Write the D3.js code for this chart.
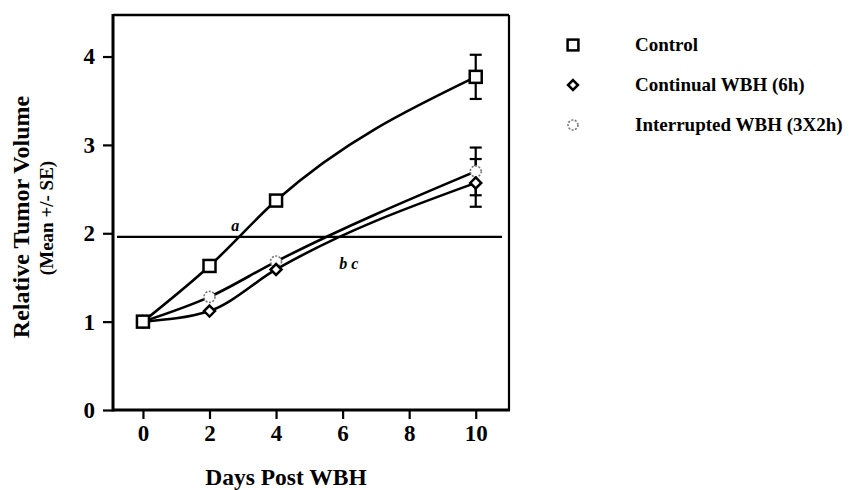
<!DOCTYPE html>
<html>
<head>
<meta charset="utf-8">
<script src="https://cdn.jsdelivr.net/npm/d3@7"></script>
<style>
  html, body { margin: 0; padding: 0; background: #fff; }
  svg { display: block; }
  text { font-family: "Liberation Serif", "Times New Roman", serif; font-weight: bold; fill: #000; }
</style>
</head>
<body>
<svg id="chart" width="852" height="490"></svg>
<script>
// ---- data ----
const days = [0, 2, 4, 10];
const xTicks = [0, 2, 4, 6, 8, 10];
const yTicks = [0, 1, 2, 3, 4];
const seriesNames = ["Control", "Continual WBH (6h)", "Interrupted WBH (3X2h)"];
const controlValues = [1.0, 1.63, 2.37, 3.77];
const continualValues = [1.0, 1.12, 1.59, 2.57];
const interruptedValues = [1.0, 1.28, 1.68, 2.70];
const controlSE = [0, 0, 0, 0.25];
const continualSE = [0, 0, 0, 0.27];
const interruptedSE = [0, 0, 0, 0.27];
const referenceLevel = 1.96;
const annotations = [
  { text: "a", day: 2.65, value: 2.03 },
  { text: "b c", day: 5.9, value: 1.6 }
];

// ---- layout ----
const svg = d3.select("#chart");
const x = d3.scaleLinear().domain([-0.9, 11]).range([113, 509]);
const y = d3.scaleLinear().domain([0, 4.47]).range([410, 15]);

// frame
const frame = svg.append("g");
frame.append("line").attr("x1", x.range()[0]).attr("x2", x.range()[1])
  .attr("y1", y.range()[1]).attr("y2", y.range()[1]).attr("stroke", "#000").attr("stroke-width", 2.5);
frame.append("line").attr("x1", x.range()[1]).attr("x2", x.range()[1])
  .attr("y1", y.range()[1]).attr("y2", y.range()[0]).attr("stroke", "#000").attr("stroke-width", 2.2);

// axes
const yAxis = svg.append("g").attr("transform", `translate(${x.range()[0]},0)`)
  .call(d3.axisLeft(y).tickValues(yTicks).tickSize(10).tickPadding(8).tickFormat(d3.format("d")));
const xAxis = svg.append("g").attr("transform", `translate(0,${y.range()[0]})`)
  .call(d3.axisBottom(x).tickValues(xTicks).tickSize(9).tickPadding(6).tickFormat(d3.format("d")));
[yAxis, xAxis].forEach(g => {
  g.select(".domain").remove();
  g.selectAll(".tick line").attr("stroke", "#000").attr("stroke-width", 2.2);
  g.selectAll(".tick text").style("font-size", "23px").style("font-family", "'Liberation Serif', serif").style("font-weight", "bold");
});
svg.append("line").attr("x1", x.range()[0]).attr("x2", x.range()[0])
  .attr("y1", y.range()[1] - 1).attr("y2", y.range()[0] + 1.5).attr("stroke", "#000").attr("stroke-width", 3);
svg.append("line").attr("x1", x.range()[0]).attr("x2", x.range()[1] + 1)
  .attr("y1", y.range()[0]).attr("y2", y.range()[0]).attr("stroke", "#000").attr("stroke-width", 3);

// axis titles
svg.append("text").attr("x", 286).attr("y", 485).attr("text-anchor", "middle")
  .style("font-size", "23.5px").text("Days Post WBH");
svg.append("text").attr("transform", "translate(29,217) rotate(-90)").attr("text-anchor", "middle")
  .style("font-size", "24px").text("Relative Tumor Volume");
svg.append("text").attr("transform", "translate(53,218) rotate(-90)").attr("text-anchor", "middle")
  .style("font-size", "19px").text("(Mean +/- SE)");

// reference line
svg.append("line").attr("x1", x.range()[0] + 4).attr("x2", x.range()[1] - 7)
  .attr("y1", y(referenceLevel)).attr("y2", y(referenceLevel)).attr("stroke", "#000").attr("stroke-width", 2.2);

// annotations
svg.selectAll("text.ann").data(annotations).join("text").attr("class", "ann")
  .attr("x", d => x(d.day)).attr("y", d => y(d.value))
  .style("font-size", "16px").style("font-style", "italic").text(d => d.text);

// series
const series = [
  { name: seriesNames[0], values: controlValues, se: controlSE, shape: "square" },
  { name: seriesNames[1], values: continualValues, se: continualSE, shape: "diamond" },
  { name: seriesNames[2], values: interruptedValues, se: interruptedSE, shape: "circle" }
];
const line = d3.line().x(d => x(d[0])).y(d => y(d[1])).curve(d3.curveMonotoneX);

series.forEach(s => {
  const pts = days.map((d, i) => [d, s.values[i]]);
  svg.append("path").attr("d", line(pts)).attr("fill", "none").attr("stroke", "#000").attr("stroke-width", 2.6);
});

// error bars
series.forEach(s => {
  days.forEach((d, i) => {
    if (!s.se[i]) return;
    const cx = x(d), hi = y(s.values[i] + s.se[i]), lo = y(s.values[i] - s.se[i]);
    const g = svg.append("g").attr("stroke", "#000").attr("stroke-width", 2.2);
    g.append("line").attr("x1", cx).attr("x2", cx).attr("y1", hi).attr("y2", lo);
    g.append("line").attr("x1", cx - 6).attr("x2", cx + 6).attr("y1", hi).attr("y2", hi);
    g.append("line").attr("x1", cx - 6).attr("x2", cx + 6).attr("y1", lo).attr("y2", lo);
  });
});

function drawMarker(g, shape, cx, cy, scale) {
  const k = scale || 1;
  if (shape === "square") {
    const h = 6 * k;
    g.append("rect").attr("x", cx - h).attr("y", cy - h).attr("width", 2 * h).attr("height", 2 * h)
      .attr("fill", "#fff").attr("stroke", "#000").attr("stroke-width", 2.5);
  } else if (shape === "diamond") {
    const h = 5.5 * k;
    g.append("path").attr("d", `M${cx},${cy - h}L${cx + h},${cy}L${cx},${cy + h}L${cx - h},${cy}Z`)
      .attr("fill", "#fff").attr("stroke", "#000").attr("stroke-width", 2.5);
  } else {
    g.append("circle").attr("cx", cx).attr("cy", cy).attr("r", 5.5 * k)
      .attr("fill", "#fff").attr("stroke", "#777").attr("stroke-width", 1.6).attr("stroke-dasharray", "2,1.5");
  }
}

// markers (draw circles, diamonds, then squares on top)
[series[2], series[1], series[0]].forEach(s => {
  days.forEach((d, i) => drawMarker(svg, s.shape, x(d), y(s.values[i])));
});

// legend
const legendY = [45, 85, 125];
series.forEach((s, i) => {
  drawMarker(svg, s.shape, 573, legendY[i], 0.9);
  svg.append("text").attr("x", 635).attr("y", legendY[i] + 6).style("font-size", "19px").text(s.name);
});
</script>
</body>
</html>
